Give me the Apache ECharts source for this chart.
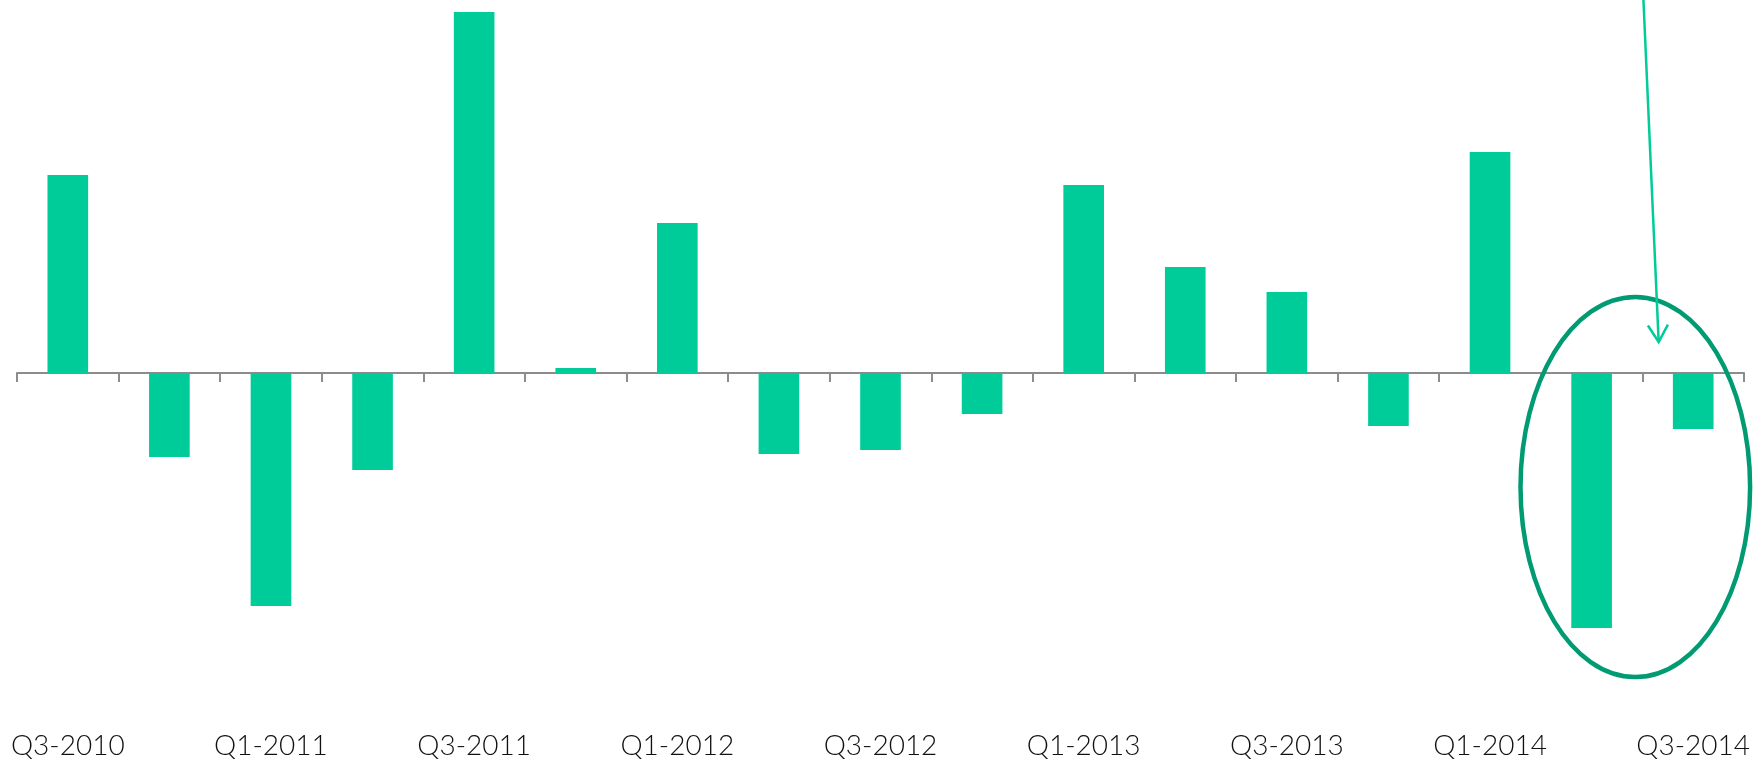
<!DOCTYPE html>
<html>
<head>
    <meta charset="utf-8">
    <title>ECharts</title>
    <script src="https://cdn.jsdelivr.net/npm/echarts@6/dist/echarts.min.js"></script>
    <style>
        html, body { margin: 0; padding: 0; background: #fff; }
    </style>
</head>
<body>
    <div id="main" style="width: 1762px;height:762px;"></div>
    <script type="text/javascript">
    // quarters on the x axis
    var quarters = ['Q3-2010', 'Q4-2010', 'Q1-2011', 'Q2-2011', 'Q3-2011', 'Q4-2011',
        'Q1-2012', 'Q2-2012', 'Q3-2012', 'Q4-2012', 'Q1-2013', 'Q2-2013',
        'Q3-2013', 'Q4-2013', 'Q1-2014', 'Q2-2014', 'Q3-2014'];
    // quarterly change
    var values = [1.98, -0.84, -2.33, -0.97, 3.61, 0.05, 1.50, -0.81, -0.77,
        -0.41, 1.88, 1.06, 0.81, -0.53, 2.21, -2.55, -0.56];

    var yMin = -3.4, yMax = 3.73;

    var barColor = '#00CC99';
    var ringColor = '#009B72';

    var myChart = echarts.init(document.getElementById('main'));

    var option = {
        animation: false,
        backgroundColor: '#fff',
        grid: { left: 17, right: 18, top: 0, bottom: 49 },
        xAxis: [
            {
                type: 'category',
                data: quarters,
                position: 'bottom',
                axisLine: { onZero: true, lineStyle: { color: '#8c8c8c', width: 2 } },
                axisTick: { show: true, interval: 0, length: 9, lineStyle: { color: '#8c8c8c', width: 2 } },
                axisLabel: { show: false },
                splitLine: { show: false }
            },
            {
                type: 'category',
                data: quarters,
                position: 'bottom',
                axisLine: { show: false, onZero: false },
                axisTick: { show: false },
                axisLabel: {
                    interval: 1,
                    margin: 19,
                    color: '#111',
                    fontSize: 28,
                    fontWeight: 300,
                    fontFamily: 'Lato'
                },
                splitLine: { show: false }
            }
        ],
        yAxis: {
            type: 'value',
            min: yMin,
            max: yMax,
            show: false,
            splitLine: { show: false }
        },
        series: [{
            type: 'bar',
            data: values,
            barWidth: '40%',
            itemStyle: { color: barColor }
        }]
    };

    myChart.setOption(option);

    // annotation: ring round the last two quarters, arrow coming down from above
    function px(catPos, val) {
        var i = Math.floor(catPos), f = catPos - i;
        var x0 = myChart.convertToPixel({ xAxisIndex: 0 }, quarters[i]);
        var x1 = myChart.convertToPixel({ xAxisIndex: 0 }, quarters[Math.min(i + 1, quarters.length - 1)]);
        var step = i + 1 < quarters.length ? x1 - x0 : (x0 - myChart.convertToPixel({ xAxisIndex: 0 }, quarters[i - 1]));
        var x = x0 + f * step;
        var y = myChart.convertToPixel({ yAxisIndex: 0 }, val);
        return [x, y];
    }

    var c = px(15.43, -1.14);
    var edge = px(16.56, 0.76);
    var rx = edge[0] - c[0], ry = c[1] - edge[1];

    var from = px(15.51, yMax);
    var tip = px(15.66, 0.31);
    var dx = tip[0] - from[0], dy = tip[1] - from[1];
    var len = Math.sqrt(dx * dx + dy * dy);
    var ux = dx / len, uy = dy / len;
    var back = 17, half = 10;
    var wingL = [tip[0] - ux * back - uy * half, tip[1] - uy * back + ux * half];
    var wingR = [tip[0] - ux * back + uy * half, tip[1] - uy * back - ux * half];

    myChart.setOption({
        graphic: [
            {
                type: 'ellipse',
                shape: { cx: c[0], cy: c[1], rx: rx, ry: ry },
                style: { fill: 'none', stroke: ringColor, lineWidth: 4.5 },
                z: 10
            },
            {
                type: 'line',
                shape: { x1: from[0], y1: from[1], x2: tip[0], y2: tip[1] },
                style: { stroke: barColor, lineWidth: 2.5 },
                z: 11
            },
            {
                type: 'polyline',
                shape: { points: [wingL, tip, wingR] },
                style: { fill: 'none', stroke: barColor, lineWidth: 2.5 },
                z: 11
            }
        ]
    });
    </script>
</body>
</html>
